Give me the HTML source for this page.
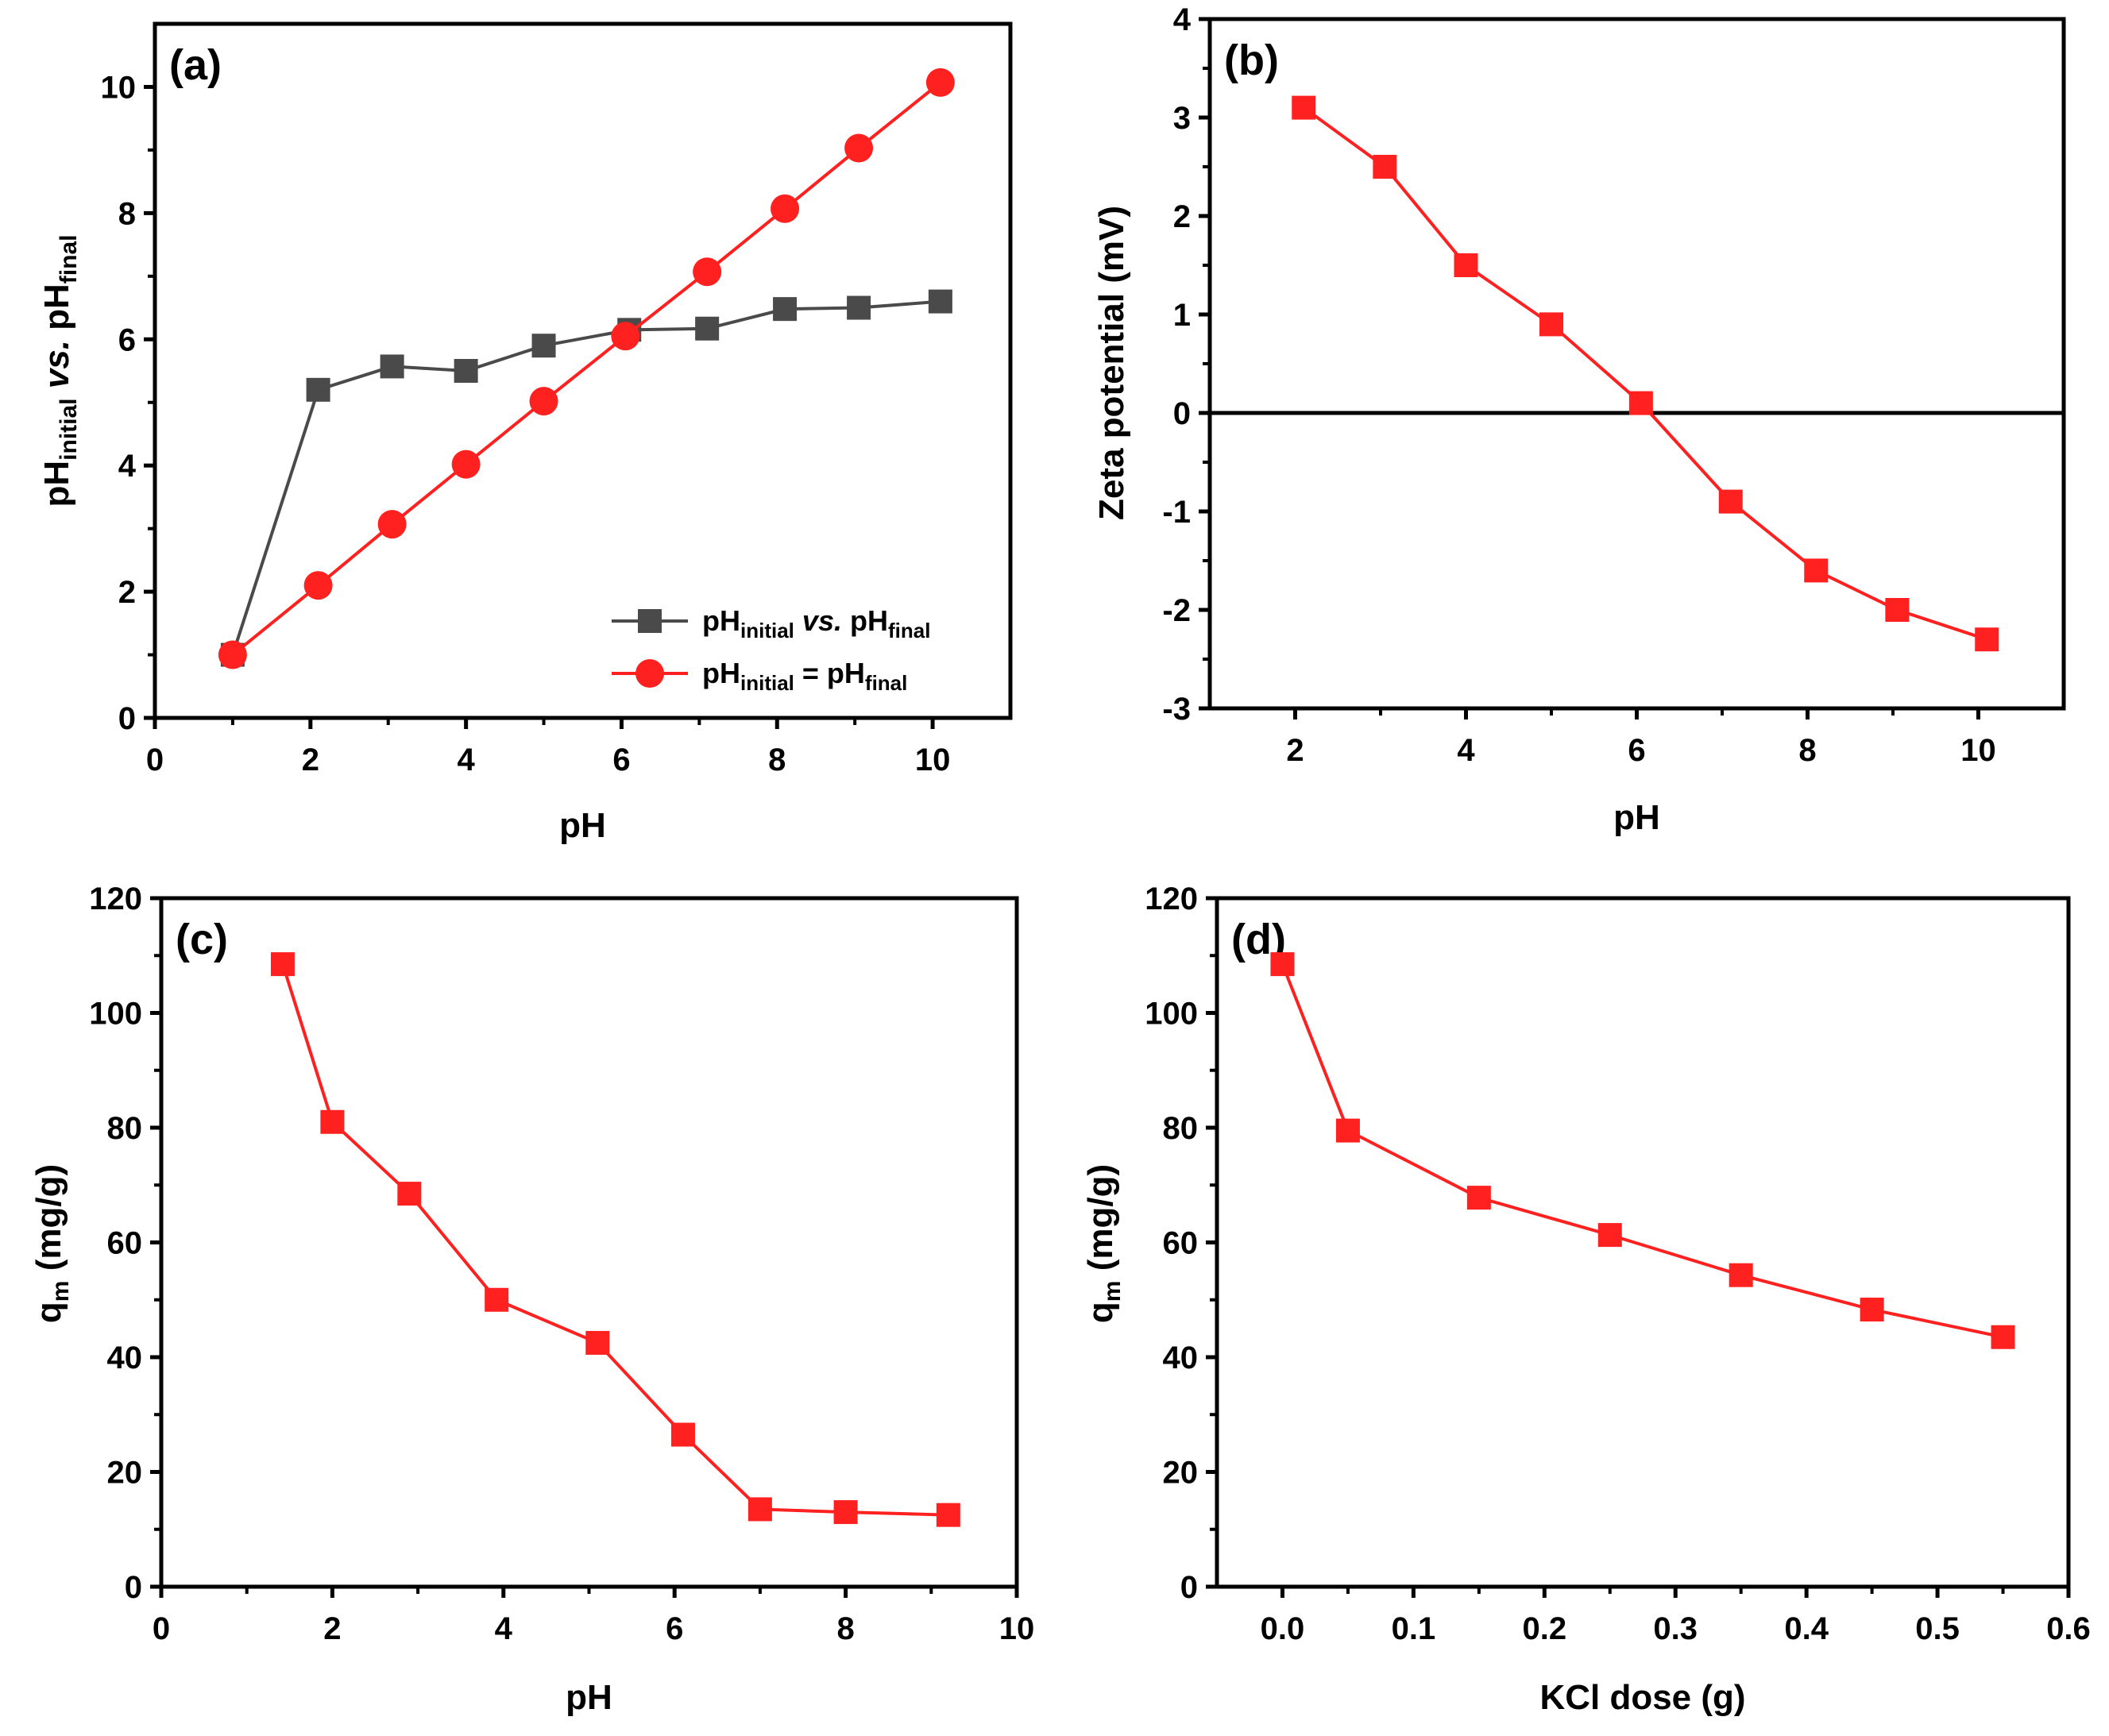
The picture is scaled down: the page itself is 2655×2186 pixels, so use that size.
<!DOCTYPE html>
<html><head><meta charset="utf-8">
<style>
html,body{margin:0;padding:0;background:#fff;}
svg{display:block;font-family:"Liberation Sans",Arial,sans-serif;font-weight:bold;}
</style></head>
<body>
<svg id="fig" width="2655" height="2186" viewBox="0 0 2655 2186" xmlns="http://www.w3.org/2000/svg">
<rect width="2655" height="2186" fill="#fff"/>
</svg>
<script>
// Panel (a)
const aX1 = [1, 2.1, 3.05, 4, 5, 6.1, 7.1, 8.1, 9.05, 10.1];
const aY1 = [1, 5.2, 5.57, 5.5, 5.9, 6.15, 6.17, 6.48, 6.5, 6.6];
const aX2 = [1, 2.1, 3.05, 4, 5, 6.05, 7.1, 8.1, 9.05, 10.1];
const aY2 = [1, 2.1, 3.07, 4.02, 5.02, 6.05, 7.07, 8.07, 9.03, 10.07];
const aXTicks = [0, 2, 4, 6, 8, 10];
const aYTicks = [0, 2, 4, 6, 8, 10];
// Panel (b)
const bX = [2.1, 3.05, 4, 5, 6.05, 7.1, 8.1, 9.05, 10.1];
const bY = [3.1, 2.5, 1.5, 0.9, 0.1, -0.9, -1.6, -2, -2.3];
const bXTicks = [2, 4, 6, 8, 10];
const bYTicks = [-3, -2, -1, 0, 1, 2, 3, 4];
// Panel (c)
const cX = [1.42, 2, 2.9, 3.92, 5.1, 6.1, 7, 8, 9.2];
const cY = [108.5, 81, 68.5, 50, 42.5, 26.5, 13.5, 13, 12.5];
const cXTicks = [0, 2, 4, 6, 8, 10];
const cYTicks = [0, 20, 40, 60, 80, 100, 120];
// Panel (d)
const dX = [0, 0.05, 0.15, 0.25, 0.35, 0.45, 0.55];
const dY = [108.5, 79.5, 67.8, 61.3, 54.3, 48.3, 43.5];
const dXTicks = [0.0, 0.1, 0.2, 0.3, 0.4, 0.5, 0.6];
const dYTicks = [0, 20, 40, 60, 80, 100, 120];

const NS = "http://www.w3.org/2000/svg";
const svg = document.getElementById('fig');
function mk(tag, attrs, parent) {
  const e = document.createElementNS(NS, tag);
  for (const k in attrs) e.setAttribute(k, attrs[k]);
  (parent || svg).appendChild(e);
  return e;
}

function panel(cfg) {
  const g = mk('g', {});
  
  
  const {L, R, T, B, xmin, xmax, ymin, ymax} = cfg;
  const sx = v => L + (v - xmin) / (xmax - xmin) * (R - L);
  const sy = v => B - (v - ymin) / (ymax - ymin) * (B - T);
  cfg.sx = sx; cfg.sy = sy;
  // frame
  const fr = mk('rect', {x: L, y: T, width: R - L, height: B - T, fill: 'none', stroke: '#000', 'stroke-width': 5}, g);
  
  
  // x ticks
  cfg.xTicks.forEach((t, i) => {
    const x = sx(t);
    const tk = mk('line', {x1: x, x2: x, y1: B, y2: B + 14, stroke: '#000', 'stroke-width': 5}, g);
    
    
    const lb = mk('text', {x: x, y: B + 66, 'font-size': 40, 'text-anchor': 'middle', fill: '#000'}, g);
    
    
    lb.textContent = cfg.xFmt ? cfg.xFmt(t) : t;
    if (i < cfg.xTicks.length - 1) {
      const m = sx((t + cfg.xTicks[i + 1]) / 2);
      const mt = mk('line', {x1: m, x2: m, y1: B, y2: B + 9, stroke: '#000', 'stroke-width': 4}, g);
      
      
    }
  });
  cfg.yTicks.forEach((t, i) => {
    const y = sy(t);
    const tk = mk('line', {x1: L - 14, x2: L, y1: y, y2: y, stroke: '#000', 'stroke-width': 5}, g);
    
    
    const lb = mk('text', {x: L - 24, y: y + 14, 'font-size': 40, 'text-anchor': 'end', fill: '#000'}, g);
    
    
    lb.textContent = t;
    if (i < cfg.yTicks.length - 1) {
      const m = sy((t + cfg.yTicks[i + 1]) / 2);
      const mt = mk('line', {x1: L - 9, x2: L, y1: m, y2: m, stroke: '#000', 'stroke-width': 4}, g);
      
      
    }
  });
  // panel label
  const pl = mk('text', {x: L + 18, y: T + 70, 'font-size': 54, fill: '#000'}, g);
  
  
  pl.textContent = cfg.label;
  // x title
  const xt = mk('text', {x: (L + R) / 2, y: cfg.xTitleY, 'font-size': 44, 'text-anchor': 'middle', fill: '#000'}, g);
  
  
  xt.textContent = cfg.xTitle;
  // y title
  const yt = mk('text', {x: 0, y: 0, 'font-size': 44, 'text-anchor': 'middle', fill: '#000', transform: `translate(${cfg.yTitleX},${cfg.yTitleY}) rotate(-90)`}, g);
  
  
  yt.innerHTML = cfg.yTitle;
  return g;
}

function series(cfg, g, xs, ys, color, marker, name) {
  const pts = xs.map((x, i) => cfg.sx(x) + ',' + cfg.sy(ys[i])).join(' ');
  const ln = mk('polyline', {points: pts, fill: 'none', stroke: color, 'stroke-width': 4}, g);
  
  
  xs.forEach((x, i) => {
    const cx = cfg.sx(x), cy = cfg.sy(ys[i]);
    let m;
    if (marker === 'circle') m = mk('circle', {cx: cx, cy: cy, r: 18, fill: color}, g);
    else m = mk('rect', {x: cx - 15, y: cy - 15, width: 30, height: 30, fill: color}, g);
    
    
  });
}

const GREY = '#4a4a4a', RED = '#ff2020';

// (a)
const pa = {name: 'panel-a', L: 195, R: 1272, T: 30, B: 904, xmin: 0, xmax: 11, ymin: 0, ymax: 11,
  xTicks: aXTicks, yTicks: aYTicks, label: '(a)', xTitle: 'pH', xTitleY: 1054, yTitleX: 86, yTitleY: 467,
  yTitle: 'pH<tspan font-size="30" dy="10">initial</tspan><tspan dy="-10"> </tspan><tspan font-style="italic">vs.</tspan> pH<tspan font-size="30" dy="10">final</tspan>'};
const ga = panel(pa);
series(pa, ga, aX1, aY1, GREY, 'square', 'ph-initial-vs-final');
series(pa, ga, aX2, aY2, RED, 'circle', 'ph-equal');
// legend
const lg = mk('g', {}, ga);


[[782, GREY, 'square', 'pH<tspan font-size="26" dy="9">initial</tspan><tspan dy="-9"> </tspan><tspan font-style="italic">vs.</tspan> pH<tspan font-size="26" dy="9">final</tspan>'],
 [848, RED, 'circle', 'pH<tspan font-size="26" dy="9">initial</tspan><tspan dy="-9"> = pH</tspan><tspan font-size="26" dy="9">final</tspan>']].forEach(e => {
  const [y, c, m, t] = e;
  const en = mk('g', {}, lg);
  
  
  mk('line', {x1: 770, x2: 866, y1: y, y2: y, stroke: c, 'stroke-width': 4}, en);
  if (m === 'circle') mk('circle', {cx: 818, cy: y, r: 18, fill: c}, en);
  else mk('rect', {x: 803, y: y - 15, width: 30, height: 30, fill: c}, en);
  const tx = mk('text', {x: 884, y: y + 12, 'font-size': 36, fill: '#000'}, en);
  tx.innerHTML = t;
});

// (b)
const pb = {name: 'panel-b', L: 1523, R: 2598, T: 24, B: 892, xmin: 1, xmax: 11, ymin: -3, ymax: 4,
  xTicks: bXTicks, yTicks: bYTicks, label: '(b)', xTitle: 'pH', xTitleY: 1044, yTitleX: 1414, yTitleY: 457,
  yTitle: 'Zeta potential (mV)'};
const gb = panel(pb);
const zl = mk('line', {x1: pb.L, x2: pb.R, y1: pb.sy(0), y2: pb.sy(0), stroke: '#000', 'stroke-width': 5}, gb);


series(pb, gb, bX, bY, RED, 'square', 'zeta');

// (c)
const pc = {name: 'panel-c', L: 203, R: 1280, T: 1131, B: 1998, xmin: 0, xmax: 10, ymin: 0, ymax: 120,
  xTicks: cXTicks, yTicks: cYTicks, label: '(c)', xTitle: 'pH', xTitleY: 2152, yTitleX: 76, yTitleY: 1566,
  yTitle: 'q<tspan font-size="30" dy="10">m</tspan><tspan dy="-10"> (mg/g)</tspan>'};
const gc = panel(pc);
series(pc, gc, cX, cY, RED, 'square', 'qm-ph');

// (d)
const pd = {name: 'panel-d', L: 1532, R: 2604, T: 1131, B: 1998, xmin: -0.05, xmax: 0.6, ymin: 0, ymax: 120,
  xTicks: dXTicks, yTicks: dYTicks, label: '(d)', xTitle: 'KCl dose (g)', xTitleY: 2152, yTitleX: 1400, yTitleY: 1566,
  xFmt: t => t.toFixed(1),
  yTitle: 'q<tspan font-size="30" dy="10">m</tspan><tspan dy="-10"> (mg/g)</tspan>'};
const gd = panel(pd);
series(pd, gd, dX, dY, RED, 'square', 'qm-kcl');
</script>
</body></html>
